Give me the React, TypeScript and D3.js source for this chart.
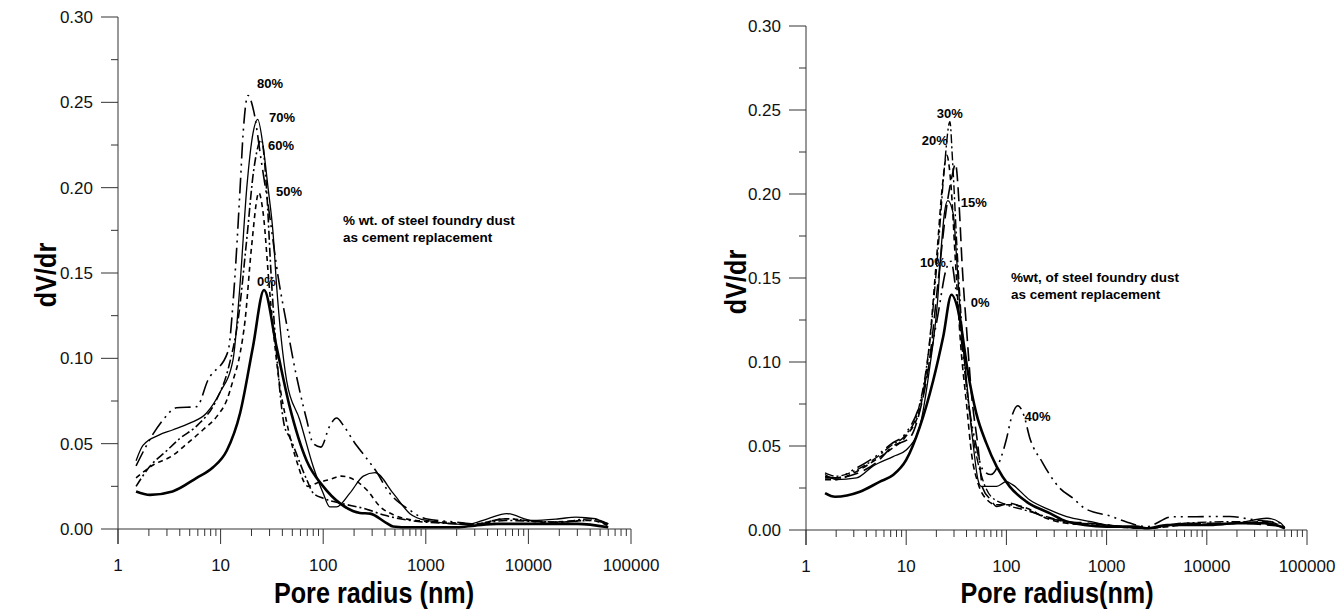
import React from "react";
import * as d3 from "d3";

// ---------- DATA ----------
const xTickLabels = ["1", "10", "100", "1000", "10000", "100000"];
const yTickLabels = ["0.00", "0.05", "0.10", "0.15", "0.20", "0.25", "0.30"];

// Left panel (pore radius nm, dV/dr)
const L0_r = [1.5, 2.05, 3.4, 5.85, 8.4, 11.5, 15.5, 20.7, 26.5, 35, 47, 69, 100, 146, 228, 286, 415, 480, 700, 1000, 2000, 3000, 5000, 8000, 15000, 30000, 60000];
const L0_v = [0.022, 0.020, 0.022, 0.030, 0.036, 0.046, 0.068, 0.107, 0.140, 0.107, 0.072, 0.040, 0.025, 0.015, 0.0094, 0.009, 0.0035, 0.0015, 0.001, 0.001, 0.001, 0.002, 0.003, 0.003, 0.003, 0.003, 0.001];

const L50_r = [1.5, 2.2, 3.4, 4.7, 6.7, 9.2, 11.5, 13.2, 15.5, 17.3, 20, 23.6, 26, 30, 36, 45, 55, 71, 87, 116, 150, 182, 265, 360, 500, 800, 1500, 3000, 6000, 15000, 40000, 60000];
const L50_v = [0.030, 0.0375, 0.043, 0.050, 0.058, 0.066, 0.0756, 0.087, 0.103, 0.122, 0.165, 0.197, 0.185, 0.14, 0.093, 0.06, 0.04, 0.025, 0.027, 0.029, 0.031, 0.030, 0.023, 0.013, 0.008, 0.005, 0.004, 0.003, 0.006, 0.004, 0.005, 0.002];

const L60_r = [1.5, 2, 3, 4, 6, 9, 12, 15, 18, 21, 25, 28, 31, 36, 42, 47, 69, 80, 100, 150, 250, 400, 700, 1000, 3000, 6000, 20000, 40000, 60000];
const L60_v = [0.025, 0.036, 0.046, 0.053, 0.061, 0.075, 0.095, 0.125, 0.17, 0.21, 0.228, 0.20, 0.15, 0.095, 0.06, 0.054, 0.029, 0.021, 0.018, 0.015, 0.012, 0.008, 0.005, 0.004, 0.003, 0.005, 0.004, 0.006, 0.003];

const L70_r = [1.5, 1.75, 2.5, 3.4, 5, 7.3, 9.85, 13.2, 15.5, 18, 20.7, 23, 26, 29, 32.5, 35, 44, 59, 80, 100, 116, 135, 182, 246, 320, 480, 700, 1020, 2500, 4000, 6150, 11000, 20000, 29000, 45000, 58000];
const L70_v = [0.040, 0.049, 0.055, 0.058, 0.062, 0.068, 0.080, 0.099, 0.144, 0.2, 0.232, 0.240, 0.224, 0.2, 0.173, 0.144, 0.087, 0.064, 0.0365, 0.021, 0.013, 0.013, 0.021, 0.031, 0.033, 0.021, 0.009, 0.005, 0.0026, 0.006, 0.009, 0.005, 0.006, 0.007, 0.006, 0.002];

const L80_r = [1.5, 2.2, 2.75, 3.7, 5.85, 7.5, 11.8, 13.5, 15.5, 16.5, 18.5, 21, 25, 29, 37, 44, 51, 69, 80, 95, 115, 135, 160, 200, 260, 335, 420, 700, 1000, 2000, 3000, 6000, 10000, 20000, 40000, 60000];
const L80_v = [0.037, 0.0557, 0.064, 0.071, 0.0717, 0.087, 0.104, 0.14, 0.20, 0.23, 0.254, 0.245, 0.215, 0.19, 0.145, 0.12, 0.099, 0.064, 0.050, 0.048, 0.060, 0.065, 0.060, 0.051, 0.042, 0.033, 0.023, 0.011, 0.006, 0.004, 0.003, 0.006, 0.005, 0.004, 0.005, 0.003];

// Right panel
const R0_r = [1.55, 1.95, 3.45, 5.47, 7.4, 10, 13.7, 18.6, 23.4, 28.3, 34, 41, 50, 63, 80, 108, 158, 270, 400, 600, 1000, 2000, 2500, 4000, 10000, 20000, 40000, 60000];
const R0_v = [0.022, 0.0198, 0.0228, 0.0288, 0.0327, 0.0417, 0.0615, 0.089, 0.115, 0.140, 0.127, 0.095, 0.0696, 0.0517, 0.0377, 0.0258, 0.0169, 0.010, 0.005, 0.003, 0.002, 0.002, 0.001, 0.003, 0.003, 0.004, 0.004, 0.001];

const R10_r = [1.55, 2, 3.2, 4.65, 7.4, 10, 13.7, 17, 20.6, 22.5, 24, 26, 29.5, 32, 35, 40, 46, 52, 56, 80, 100, 115, 170, 270, 400, 700, 1000, 2500, 5000, 10000, 20000, 40000, 55000, 60000];
const R10_v = [0.033, 0.030, 0.031, 0.038, 0.0437, 0.0476, 0.062, 0.095, 0.137, 0.17, 0.188, 0.196, 0.188, 0.16, 0.125, 0.089, 0.054, 0.030, 0.026, 0.026, 0.0288, 0.027, 0.018, 0.012, 0.008, 0.005, 0.003, 0.001, 0.003, 0.003, 0.004, 0.007, 0.004, 0.001];

const R15_r = [1.55, 2, 3, 5, 7.4, 10.9, 13.7, 17, 21, 25, 29, 31, 34, 36, 40, 45, 52, 58, 70, 80, 108, 150, 250, 400, 700, 1000, 2500, 6000, 20000, 60000];
const R15_v = [0.032, 0.031, 0.033, 0.040, 0.050, 0.055, 0.071, 0.10, 0.15, 0.19, 0.212, 0.218, 0.19, 0.16, 0.12, 0.08, 0.05, 0.025, 0.018, 0.014, 0.016, 0.013, 0.0075, 0.005, 0.004, 0.003, 0.001, 0.004, 0.004, 0.002];

const R20_r = [1.55, 2, 3, 5, 7, 10, 13.7, 17, 20, 23, 25.4, 28, 31, 35, 40, 45, 52, 60, 80, 110, 160, 250, 400, 700, 2500, 6000, 20000, 40000, 60000];
const R20_v = [0.030, 0.030, 0.034, 0.042, 0.048, 0.056, 0.072, 0.11, 0.16, 0.205, 0.223, 0.205, 0.16, 0.11, 0.075, 0.045, 0.028, 0.02, 0.015, 0.015, 0.013, 0.007, 0.004, 0.003, 0.001, 0.003, 0.004, 0.005, 0.001];

const R30_r = [1.55, 2, 3, 5, 7, 10, 13, 17, 21, 24, 27.3, 29, 32, 36, 42, 50, 58, 70, 100, 150, 250, 400, 1000, 2500, 6000, 20000, 60000];
const R30_v = [0.034, 0.032, 0.035, 0.043, 0.050, 0.057, 0.07, 0.11, 0.17, 0.215, 0.243, 0.22, 0.17, 0.12, 0.075, 0.045, 0.03, 0.02, 0.015, 0.012, 0.008, 0.005, 0.003, 0.001, 0.004, 0.005, 0.002];

const R40_r = [1.55, 2, 3, 5, 7, 10, 13.7, 17, 21, 25, 28, 31, 36, 42, 50, 58, 70, 87, 100, 112, 130, 150, 170, 230, 270, 340, 460, 600, 1130, 1580, 2500, 4500, 7800, 11000, 17000, 30000, 60000];
const R40_v = [0.031, 0.031, 0.036, 0.044, 0.051, 0.058, 0.075, 0.10, 0.13, 0.155, 0.16, 0.145, 0.11, 0.075, 0.05, 0.036, 0.033, 0.042, 0.054, 0.0667, 0.074, 0.068, 0.0554, 0.040, 0.033, 0.025, 0.019, 0.013, 0.008, 0.0048, 0.002, 0.0079, 0.0079, 0.008, 0.008, 0.006, 0.004];

type Series = { r: number[]; v: number[]; width: number; dash: string | null };

const leftSeries: Series[] = [
  { r: L0_r, v: L0_v, width: 2.6, dash: null },
  { r: L50_r, v: L50_v, width: 1.6, dash: "5,4" },
  { r: L60_r, v: L60_v, width: 1.6, dash: "9,3,2,3" },
  { r: L70_r, v: L70_v, width: 1.3, dash: null },
  { r: L80_r, v: L80_v, width: 1.6, dash: "16,5,2,5,2,5" },
];
const rightSeries: Series[] = [
  { r: R0_r, v: R0_v, width: 2.6, dash: null },
  { r: R10_r, v: R10_v, width: 1.3, dash: null },
  { r: R15_r, v: R15_v, width: 1.6, dash: "14,6" },
  { r: R20_r, v: R20_v, width: 1.6, dash: "6,4" },
  { r: R30_r, v: R30_v, width: 1.4, dash: "9,3,2,3" },
  { r: R40_r, v: R40_v, width: 1.6, dash: "16,5,2,5,2,5" },
];

const leftLabels = [
  { t: "80%", r: 22.6, v: 0.261 },
  { t: "70%", r: 29.6, v: 0.241 },
  { t: "60%", r: 29, v: 0.2245 },
  { t: "50%", r: 34.7, v: 0.1975 },
  { t: "0%", r: 22.6, v: 0.1448 },
];
const rightLabels = [
  { t: "30%", r: 20.2, v: 0.248 },
  { t: "20%", r: 14.3, v: 0.232 },
  { t: "15%", r: 35.1, v: 0.195 },
  { t: "10%", r: 13.7, v: 0.159 },
  { t: "0%", r: 44.2, v: 0.1357 },
  { t: "40%", r: 152, v: 0.0673 },
];

type Panel = {
  x0: number; x1: number; y0: number; yTop: number;
  series: Series[]; labels: { t: string; r: number; v: number }[];
  note: string[]; noteX: number; noteY: number;
  xTitle: string; xTitleX: number; yTitleX: number; yTitleY: number;
};

const panels: Panel[] = [
  {
    x0: 118, x1: 631, y0: 529, yTop: 17, series: leftSeries, labels: leftLabels,
    note: ["% wt. of steel foundry dust", "as cement replacement"], noteX: 343, noteY: 225,
    xTitle: "Pore radius (nm)", xTitleX: 374, yTitleX: 45, yTitleY: 275,
  },
  {
    x0: 806, x1: 1307, y0: 530, yTop: 26, series: rightSeries, labels: rightLabels,
    note: ["%wt, of steel foundry dust", "as cement replacement"], noteX: 1011, noteY: 282,
    xTitle: "Pore radius(nm)", xTitleX: 1057, yTitleX: 735, yTitleY: 282,
  },
];

const FONT = "'Liberation Sans', Arial, Helvetica, sans-serif";

function PanelView({ p }: { p: Panel }) {
  const x = d3.scaleLog().domain([1, 100000]).range([p.x0, p.x1]);
  const y = d3.scaleLinear().domain([0, 0.3]).range([p.y0, p.yTop]);
  const line = d3
    .line<[number, number]>()
    .x((d) => x(d[0]))
    .y((d) => y(d[1]))
    .curve(d3.curveMonotoneX);

  const majors = [1, 10, 100, 1000, 10000, 100000];
  const minors: number[] = [];
  for (let e = 0; e < 5; e++) for (let k = 2; k <= 9; k++) minors.push(k * Math.pow(10, e));
  const yMaj = d3.range(0, 7).map((i) => i * 0.05);
  const yMin = d3.range(0, 6).map((i) => i * 0.05 + 0.025);
  const axisColor = "#333";

  return (
    <g>
      {/* axes */}
      <line x1={p.x0} x2={p.x0} y1={y(0.3)} y2={p.y0 + 15} stroke={axisColor} strokeWidth={1} />
      <line x1={p.x0} x2={p.x1} y1={p.y0} y2={p.y0} stroke={axisColor} strokeWidth={1} />
      {majors.map((m, i) => (
        <g key={"mx" + i}>
          <line x1={x(m)} x2={x(m)} y1={p.y0} y2={p.y0 + 15} stroke={axisColor} strokeWidth={1} />
          <text x={x(m)} y={p.y0 + 42} textAnchor="middle" fontSize={17} fontFamily={FONT} fill="#111">
            {xTickLabels[i]}
          </text>
        </g>
      ))}
      {minors.map((m, i) => (
        <line key={"mn" + i} x1={x(m)} x2={x(m)} y1={p.y0} y2={p.y0 + 7} stroke={axisColor} strokeWidth={1} />
      ))}
      {yMaj.map((v, i) => (
        <g key={"my" + i}>
          <line x1={p.x0 - 17} x2={p.x0} y1={y(v)} y2={y(v)} stroke={axisColor} strokeWidth={1} />
          <text x={p.x0 - 25} y={y(v)} dy="0.36em" textAnchor="end" fontSize={17} fontFamily={FONT} fill="#111">
            {yTickLabels[i]}
          </text>
        </g>
      ))}
      {yMin.map((v, i) => (
        <line key={"ny" + i} x1={p.x0 - 7} x2={p.x0} y1={y(v)} y2={y(v)} stroke={axisColor} strokeWidth={1} />
      ))}

      {/* curves */}
      {p.series.map((s, i) => (
        <path
          key={"s" + i}
          d={line(s.r.map((r, j) => [r, s.v[j]] as [number, number])) || ""}
          fill="none"
          stroke="#000"
          strokeWidth={s.width}
          strokeDasharray={s.dash || undefined}
          strokeLinejoin="round"
        />
      ))}

      {/* labels */}
      {p.labels.map((l, i) => (
        <text key={"l" + i} x={x(l.r)} y={y(l.v)} dy="0.35em" fontSize={13} fontWeight="bold" fontFamily={FONT} fill="#000">
          {l.t}
        </text>
      ))}
      {p.note.map((t, i) => (
        <text key={"n" + i} x={p.noteX} y={p.noteY + i * 17} fontSize={13.5} fontWeight="bold" fontFamily={FONT} fill="#000">
          {t}
        </text>
      ))}

      {/* titles (condensed bold) */}
      <text
        transform={`translate(${p.xTitleX},603) scale(0.84,1)`}
        textAnchor="middle"
        fontSize={30}
        fontWeight="bold"
        fontFamily={FONT}
        fill="#000"
      >
        {p.xTitle}
      </text>
      <text
        transform={`translate(${p.yTitleX},${p.yTitleY}) rotate(-90) scale(0.84,1)`}
        textAnchor="middle"
        dy="0.36em"
        fontSize={30}
        fontWeight="bold"
        fontFamily={FONT}
        fill="#000"
      >
        dV/dr
      </text>
    </g>
  );
}

export default function App() {
  return (
    <svg
      width={1341}
      height={612}
      style={{ position: "absolute", left: 0, top: 0, background: "#fff", display: "block" }}
    >
      <rect width={1341} height={612} fill="#fff" />
      {panels.map((p, i) => (
        <PanelView key={i} p={p} />
      ))}
    </svg>
  );
}
